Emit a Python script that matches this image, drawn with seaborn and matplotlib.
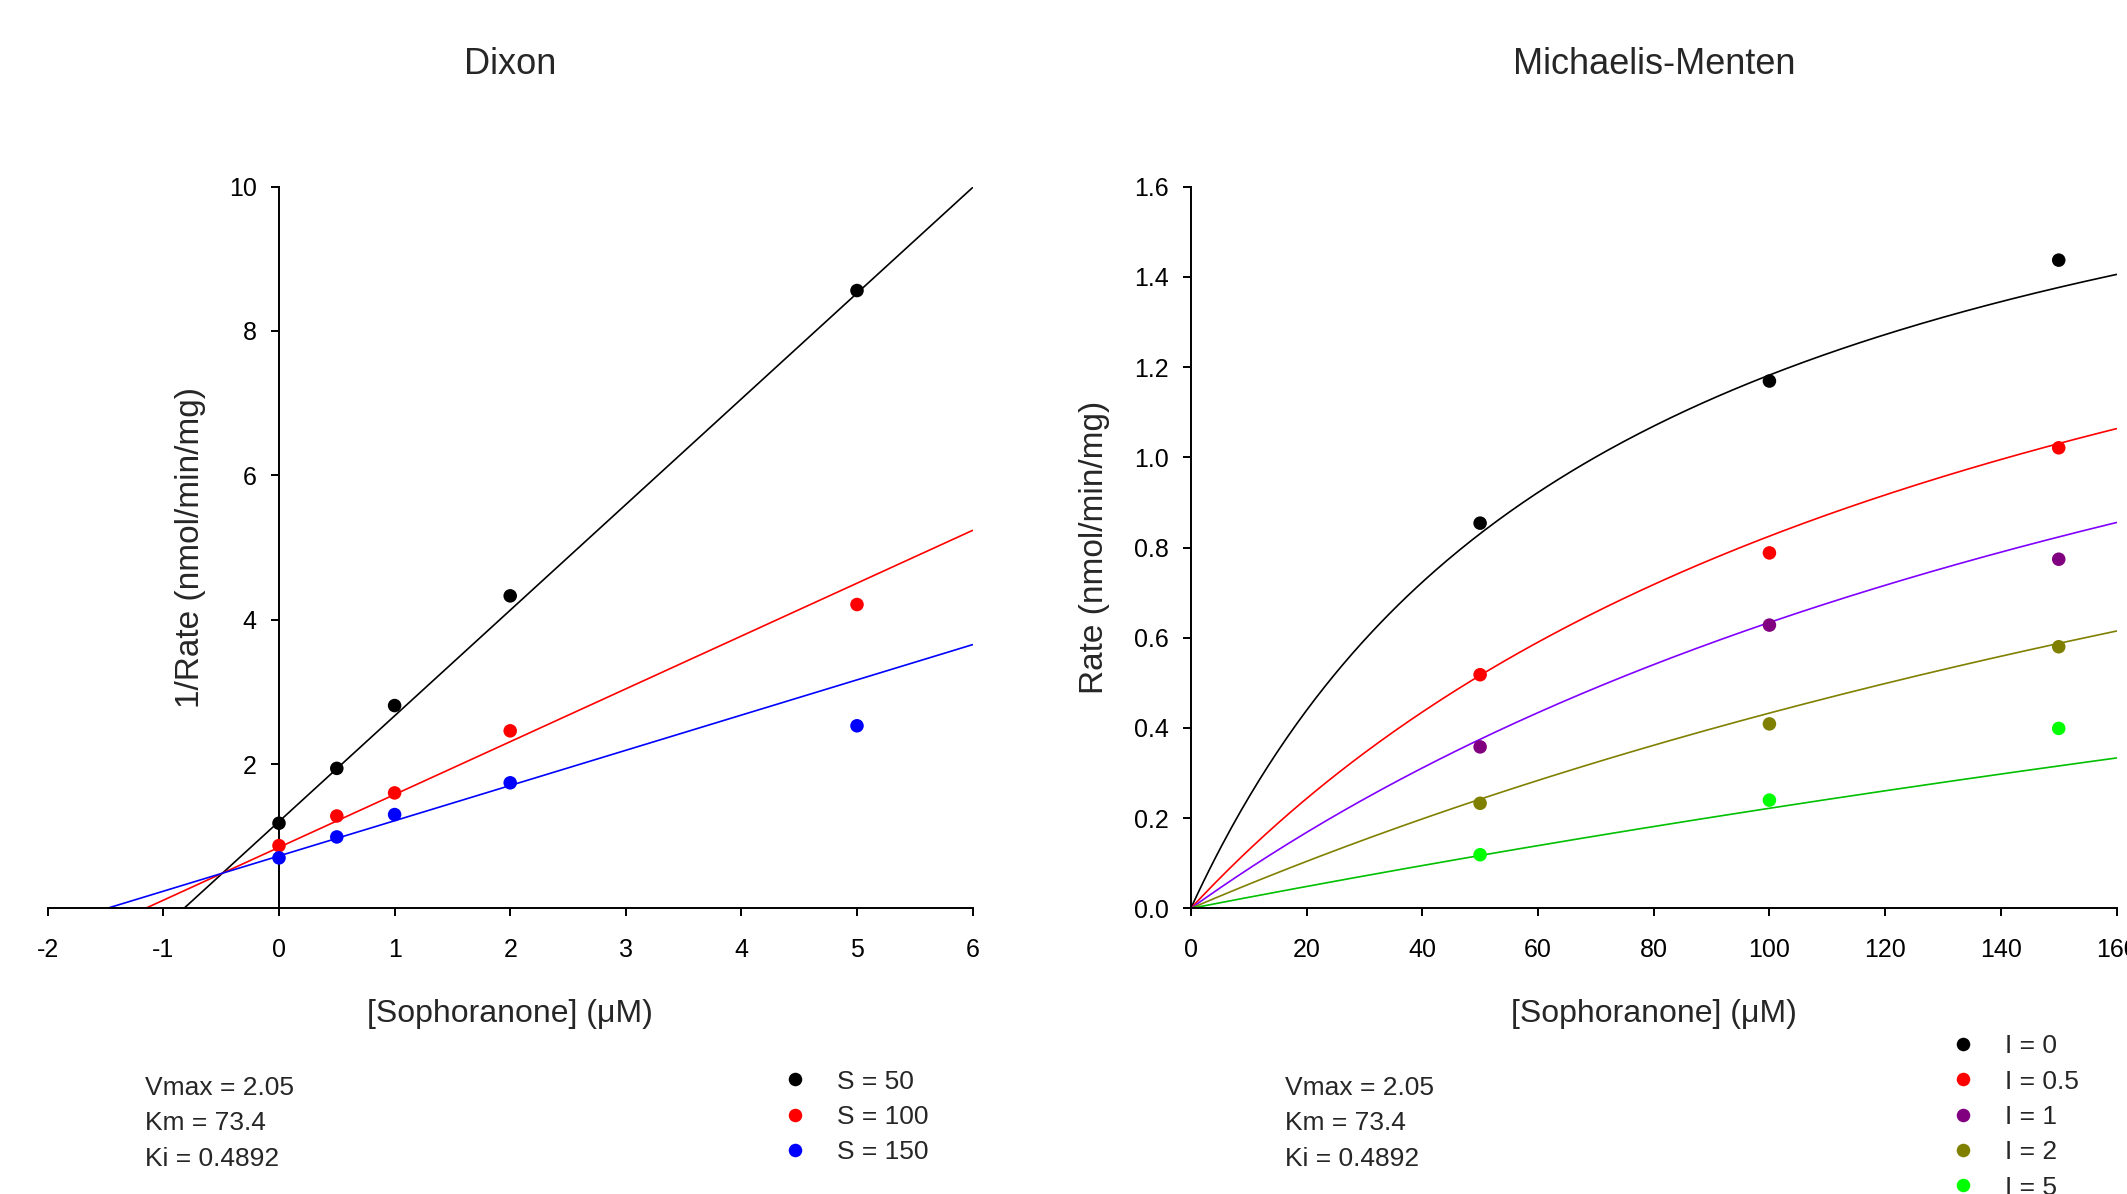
import numpy as np
import pandas as pd
import matplotlib
matplotlib.use("Agg")
import matplotlib.pyplot as plt
import seaborn as sns

sns.set_style("white")
plt.rcParams['font.family'] = ['Liberation Sans', 'DejaVu Sans']
plt.rcParams['axes.unicode_minus'] = False

# ---------------- data ----------------
# fitted parameters (shown on chart)
VMAX = 2.05
KM = 73.4
KI = 0.4892

# Dixon plot: inhibitor concentrations and 1/rate for each substrate level
dixon_I = [0, 0.5, 1, 2, 5]
dixon_S = [50, 100, 150]
dixon_S_labels = ["S = 50", "S = 100", "S = 150"]
inv_rate_S50 = [1.18, 1.94, 2.81, 4.33, 8.56]
inv_rate_S100 = [0.87, 1.28, 1.60, 2.46, 4.21]
inv_rate_S150 = [0.70, 0.99, 1.30, 1.74, 2.53]
dixon_colors = ["#000000", "#ff0000", "#0000ff"]

# Michaelis-Menten plot: substrate concentrations and rate for each inhibitor level
mm_S = [50, 100, 150]
mm_I = [0, 0.5, 1, 2, 5]
mm_I_labels = ["I = 0", "I = 0.5", "I = 1", "I = 2", "I = 5"]
rate_I0 = [0.854, 1.169, 1.437]
rate_I05 = [0.518, 0.788, 1.021]
rate_I1 = [0.358, 0.628, 0.774]
rate_I2 = [0.233, 0.409, 0.580]
rate_I5 = [0.119, 0.240, 0.399]
mm_marker_colors = ["#000000", "#ff0000", "#800080", "#808000", "#00ff00"]
mm_line_colors = ["#000000", "#ff0000", "#8000ff", "#808000", "#00c000"]

# ---------------- tables ----------------
dixon_vals = [inv_rate_S50, inv_rate_S100, inv_rate_S150]
dixon_df = pd.DataFrame([
    {"I": i, "inv_rate": v, "series": lab}
    for lab, vals in zip(dixon_S_labels, dixon_vals)
    for i, v in zip(dixon_I, vals)
])
I_grid = np.linspace(-2, 6, 200)
dixon_fit = pd.DataFrame([
    {"I": i, "inv_rate": (1 / VMAX) * (1 + KM / s) + KM / (VMAX * s * KI) * i, "series": lab}
    for s, lab in zip(dixon_S, dixon_S_labels)
    for i in I_grid
])

mm_vals = [rate_I0, rate_I05, rate_I1, rate_I2, rate_I5]
mm_df = pd.DataFrame([
    {"S": s, "rate": v, "series": lab}
    for lab, vals in zip(mm_I_labels, mm_vals)
    for s, v in zip(mm_S, vals)
])
S_grid = np.linspace(0, 160, 300)
mm_fit = pd.DataFrame([
    {"S": s, "rate": VMAX * s / (KM * (1 + i / KI) + s), "series": lab}
    for i, lab in zip(mm_I, mm_I_labels)
    for s in S_grid
])

# ---------------- figure ----------------
W, H = 2127, 1194
fig = plt.figure(figsize=(W / 100, H / 100), dpi=100)

def px_axes(left, right, top, bottom):
    return fig.add_axes([left / W, 1 - bottom / H, (right - left) / W, (bottom - top) / H])

ax1 = px_axes(47.8, 972.6, 186.6, 908.4)
ax2 = px_axes(1190.8, 2116.6, 186.6, 908.4)

TICK_FS = 18
LABEL_FS = 23
TITLE_FS = 26
TEXT_FS = 19

# Dixon
sns.lineplot(data=dixon_fit, x="I", y="inv_rate", hue="series", hue_order=dixon_S_labels,
             palette=dixon_colors, linewidth=1.2, legend=False, ax=ax1, sort=False)
sns.scatterplot(data=dixon_df, x="I", y="inv_rate", hue="series", hue_order=dixon_S_labels,
                palette=dixon_colors, s=95, linewidth=0, ax=ax1, zorder=3, clip_on=False)
ax1.set_xlim(-2, 6)
ax1.set_ylim(0, 10)
ax1.set_xticks(range(-2, 7))
ax1.set_yticks([2, 4, 6, 8, 10])
ax1.spines['left'].set_position(('data', 0))

# Michaelis-Menten
sns.lineplot(data=mm_fit, x="S", y="rate", hue="series", hue_order=mm_I_labels,
             palette=mm_line_colors, linewidth=1.2, legend=False, ax=ax2, sort=False)
sns.scatterplot(data=mm_df, x="S", y="rate", hue="series", hue_order=mm_I_labels,
                palette=mm_marker_colors, s=95, linewidth=0, ax=ax2, zorder=3)
ax2.set_xlim(0, 160)
ax2.set_ylim(0, 1.6)
ax2.set_xticks(range(0, 161, 20))
ax2.set_yticks(np.arange(0, 1.61, 0.2))
ax2.yaxis.set_major_formatter(matplotlib.ticker.FormatStrFormatter('%.1f'))

for ax in (ax1, ax2):
    for sp in ("top", "right"):
        ax.spines[sp].set_visible(False)
    for sp in ("left", "bottom"):
        ax.spines[sp].set_linewidth(1.4)
        ax.spines[sp].set_color("black")
    ax.tick_params(axis="both", direction="out", length=6, width=1.4, colors="black",
                   labelsize=TICK_FS, left=True, bottom=True)
    ax.tick_params(axis="y", pad=10)
    ax.tick_params(axis="x", pad=15.5)
    ax.set_xlabel("[Sophoranone] (\u03bcM)", fontsize=LABEL_FS)
    ax.xaxis.label.set_va("center")
    ax.xaxis.set_label_coords(0.5, (908.4 - 1014) / 721.8)
    ax.grid(False)

ax1.set_ylabel("1/Rate (nmol/min/mg)", fontsize=LABEL_FS + 1)
ax1.yaxis.label.set_va("center")
ax1.yaxis.set_label_coords((191 - 47.8) / 924.8, 0.5)
ax2.set_ylabel("Rate (nmol/min/mg)", fontsize=LABEL_FS + 1)
ax2.yaxis.label.set_va("center")
ax2.yaxis.set_label_coords((1094 - 1190.8) / 925.8, 0.5)

# titles
fig.text(510 / W, 1 - 65 / H, "Dixon", fontsize=TITLE_FS, ha="center", va="center")
fig.text(1654 / W, 1 - 65 / H, "Michaelis-Menten", fontsize=TITLE_FS, ha="center", va="center")

# parameter text
param_lines = [f"Vmax = {VMAX:.2f}", f"Km = {KM}", f"Ki = {KI}"]
for x0 in (145, 1285):
    for k, line in enumerate(param_lines):
        fig.text(x0 / W, 1 - (1088 + 35.3 * k) / H, line, fontsize=TEXT_FS, ha="left", va="center")

# legends
def place_legend(ax, labels, marker_x, first_y):
    handles, labs = ax.get_legend_handles_labels()
    fs_px = TEXT_FS * 100 / 72
    leg = ax.legend(handles, labs, loc="upper left",
                    bbox_to_anchor=((marker_x - 0.5 * fs_px) / W, 1 - (first_y - 0.58 * fs_px) / H),
                    bbox_transform=fig.transFigure, frameon=False, fontsize=TEXT_FS,
                    handlelength=1.0, handletextpad=1.1, labelspacing=0.43,
                    borderpad=0, borderaxespad=0, markerscale=1.0)
    return leg

place_legend(ax1, dixon_S_labels, 795, 1085)
place_legend(ax2, mm_I_labels, 1963, 1049.5)

fig.savefig("out.png", dpi=100)
